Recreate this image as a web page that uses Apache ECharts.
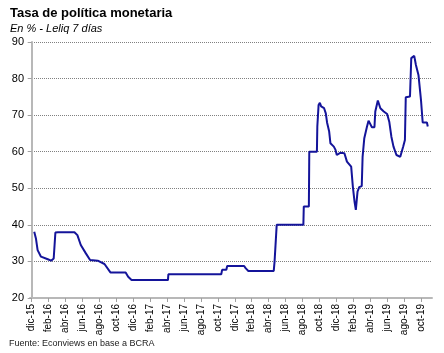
<!DOCTYPE html>
<html>
<head>
<meta charset="utf-8">
<script src="https://cdn.jsdelivr.net/npm/echarts@6/dist/echarts.min.js"></script>
<style>
  html, body { margin: 0; padding: 0; background: #fff; }
  #chart { width: 444px; height: 353px; }
</style>
</head>
<body>
<div id="chart"></div>
<script>
// posicion en meses desde dic-15 (0 = 1 dic 2015)
var monthPos = [0.3, 0.5, 0.7, 1.1, 1.9, 2.3, 2.6, 2.7, 2.8, 3.1, 5.05, 5.4, 5.8, 6.4, 6.9, 7.8, 8.6, 9.3,
  11.1, 11.4, 11.8, 16.1, 16.15, 22.4, 22.5, 23.0, 23.1, 25.1, 25.3, 25.6, 28.6, 28.7, 28.9, 28.95,
  32.1, 32.15, 32.75, 32.8, 33.7, 33.75, 33.9, 34.05, 34.2, 34.35, 34.55, 34.75, 34.9, 35.15, 35.3,
  35.7, 35.9, 36.05, 36.45, 36.95, 37.25, 37.75, 37.95, 38.15, 38.3, 38.5, 38.7, 39.0, 39.1, 39.3,
  39.5, 39.6, 39.8, 40.0, 40.2, 40.5, 40.6, 40.9, 41.2, 41.6, 42.0, 42.25, 42.5, 42.75, 43.1, 43.55,
  43.9, 44.1, 44.2, 44.7, 44.85, 45.2, 45.4, 45.7, 46.0, 46.2, 46.7, 46.8]
// tasa en %
var rate = [38.1, 36.3, 33.1, 31.3, 30.6, 30.2, 30.8, 31.2, 37.9, 38, 38, 37.2, 34.5, 32.2, 30.4, 30.2, 29.3, 27.0,
  27.0, 25.8, 24.9, 24.9, 26.5, 26.5, 27.7, 27.7, 28.75, 28.75, 28.1, 27.4, 27.4, 30.0, 30.2, 40,
  40, 45, 45, 60, 60, 66.9, 72.8, 73.4, 72.4, 72.8, 71.9, 70.5, 68.0, 65.5, 62.3,
  61.4, 60.5, 59.1, 59.7, 59.6, 57.3, 55.9, 50.4, 46.3, 44.1, 49.1, 50.3, 50.6, 58.6, 63.7,
  64.2, 66.7, 68.5, 68.0, 66.7, 66.7, 71.0, 74.0, 71.9, 71.0, 70.3, 68.2, 64.1, 61.4, 59.1, 58.6,
  61.4, 63.2, 74.9, 75.1, 85.6, 86.2, 83.7, 81.0, 74.1, 68.0, 68.0, 66.9]
var tickLabels = ['dic-15', 'feb-16', 'abr-16', 'jun-16', 'ago-16', 'oct-16', 'dic-16', 'feb-17',
  'abr-17', 'jun-17', 'ago-17', 'oct-17', 'dic-17', 'feb-18', 'abr-18', 'jun-18', 'ago-18', 'oct-18',
  'dic-18', 'feb-19', 'abr-19', 'jun-19', 'ago-19', 'oct-19']

var tickPos = tickLabels.map(function (t, i) { return i * 2 })
var seriesData = monthPos.map(function (m, i) { return [m, rate[i]] })

var chart = echarts.init(document.getElementById('chart'), null, { renderer: 'canvas' })
var font = 'Liberation Sans'
var option = {
  backgroundColor: '#fff',
  animation: false,
  title: [{
    text: 'Tasa de política monetaria',
    left: 10,
    top: 7,
    padding: 0,
    textStyle: { fontFamily: font, fontSize: 13, fontWeight: 'bold', color: '#000' }
  }, {
    text: 'En % - Leliq 7 días',
    left: 10,
    top: 23,
    padding: 0,
    textStyle: { fontFamily: font, fontSize: 11, fontStyle: 'italic', fontWeight: 'normal', color: '#000' }
  }, {
    text: 'Fuente: Econviews en base a BCRA',
    left: 9,
    top: 339,
    padding: 0,
    textStyle: { fontFamily: font, fontSize: 9, fontWeight: 'normal', color: '#222' }
  }],
  grid: {
    left: 30,
    right: 12,
    top: 42,
    bottom: 55,
    containLabel: false
  },
  xAxis: {
    type: 'value',
    min: -0.2,
    max: 47.3,
    axisLine: { show: true, lineStyle: { color: '#b8b8b8', width: 2 } },
    axisTick: { show: true, length: 4, customValues: tickPos, lineStyle: { color: '#a0a0a0' } },
    axisLabel: {
      customValues: tickPos,
      rotate: 90,
      margin: 6,
      fontFamily: font,
      fontSize: 10,
      color: '#000',
      formatter: function (v) { return tickLabels[Math.round(v / 2)] }
    },
    splitLine: { show: false }
  },
  yAxis: {
    type: 'value',
    min: 20,
    max: 90,
    interval: 10,
    axisLine: { show: true, lineStyle: { color: '#b8b8b8', width: 2 } },
    axisTick: { show: true, length: 4, lineStyle: { color: '#a0a0a0' } },
    axisLabel: { fontFamily: font, fontSize: 11, color: '#000', margin: 6 },
    splitLine: { show: true, lineStyle: { color: '#808080', type: 'dotted', width: 1 } }
  },
  series: [{
    type: 'line',
    data: seriesData,
    showSymbol: false,
    lineStyle: { color: '#14149a', width: 2 },
    itemStyle: { color: '#14149a' }
  }]
}
chart.setOption(option)
</script>
</body>
</html>
